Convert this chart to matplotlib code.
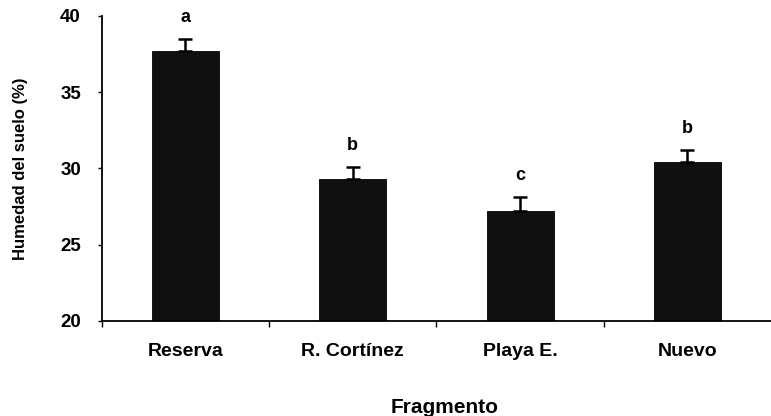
import numpy as np
import matplotlib
matplotlib.use('Agg')
import matplotlib.pyplot as plt

# soil moisture per fragment (mean, standard error) and group letters
fragmentos = ['Reserva', 'R. Cortínez', 'Playa E.', 'Nuevo']
humedad = [37.7, 29.3, 27.2, 30.4]
error = [0.8, 0.8, 0.9, 0.8]
letras = ['a', 'b', 'c', 'b']

plt.rcParams['font.family'] = ['Liberation Sans', 'DejaVu Sans']
plt.rcParams['font.weight'] = 'bold'

fig = plt.figure(figsize=(7.71, 4.16), dpi=100)
ax = fig.add_axes([0.132, 0.229, 0.868, 0.733])

x = np.arange(len(fragmentos))
ax.bar(x, humedad, width=0.4, color='#101010', edgecolor='black', linewidth=0.6, zorder=2)
ax.errorbar(x, humedad, yerr=[np.zeros(len(error)), error], fmt='none',
            ecolor='black', elinewidth=1.8, capsize=5, capthick=1.8, zorder=3)

for xi, h, e, l in zip(x, humedad, error, letras):
    ax.text(xi, h + e + 1.4, l, ha='center', va='center', fontsize=13, fontweight='bold')

ax.set_xlim(-0.5, 3.5)
ax.set_ylim(20, 40)
ax.set_yticks([20, 25, 30, 35, 40])
ax.set_xticks(x)
ax.set_xticklabels(fragmentos, fontsize=14, fontweight='bold')
ax.set_xticks(np.arange(-0.5, 3.5, 1), minor=True)
ax.tick_params(axis='x', which='major', length=0, pad=16)
ax.tick_params(axis='x', which='minor', length=4, width=1, direction='out')
ax.tick_params(axis='y', length=3, width=1, direction='out', pad=12, labelsize=13.5)
for lbl in ax.get_yticklabels():
    lbl.set_fontweight('bold')

for s in ['top', 'right']:
    ax.spines[s].set_visible(False)
ax.spines['left'].set_linewidth(1.3)
ax.spines['bottom'].set_linewidth(1.3)

ax.set_ylabel('Humedad del suelo (%)', fontsize=12, fontweight='bold')
ax.yaxis.set_label_coords(-0.11, 0.5)
fig.text(0.577, 0.02, 'Fragmento', ha='center', va='center', fontsize=15, fontweight='bold')

fig.savefig('out.png', dpi=100)
